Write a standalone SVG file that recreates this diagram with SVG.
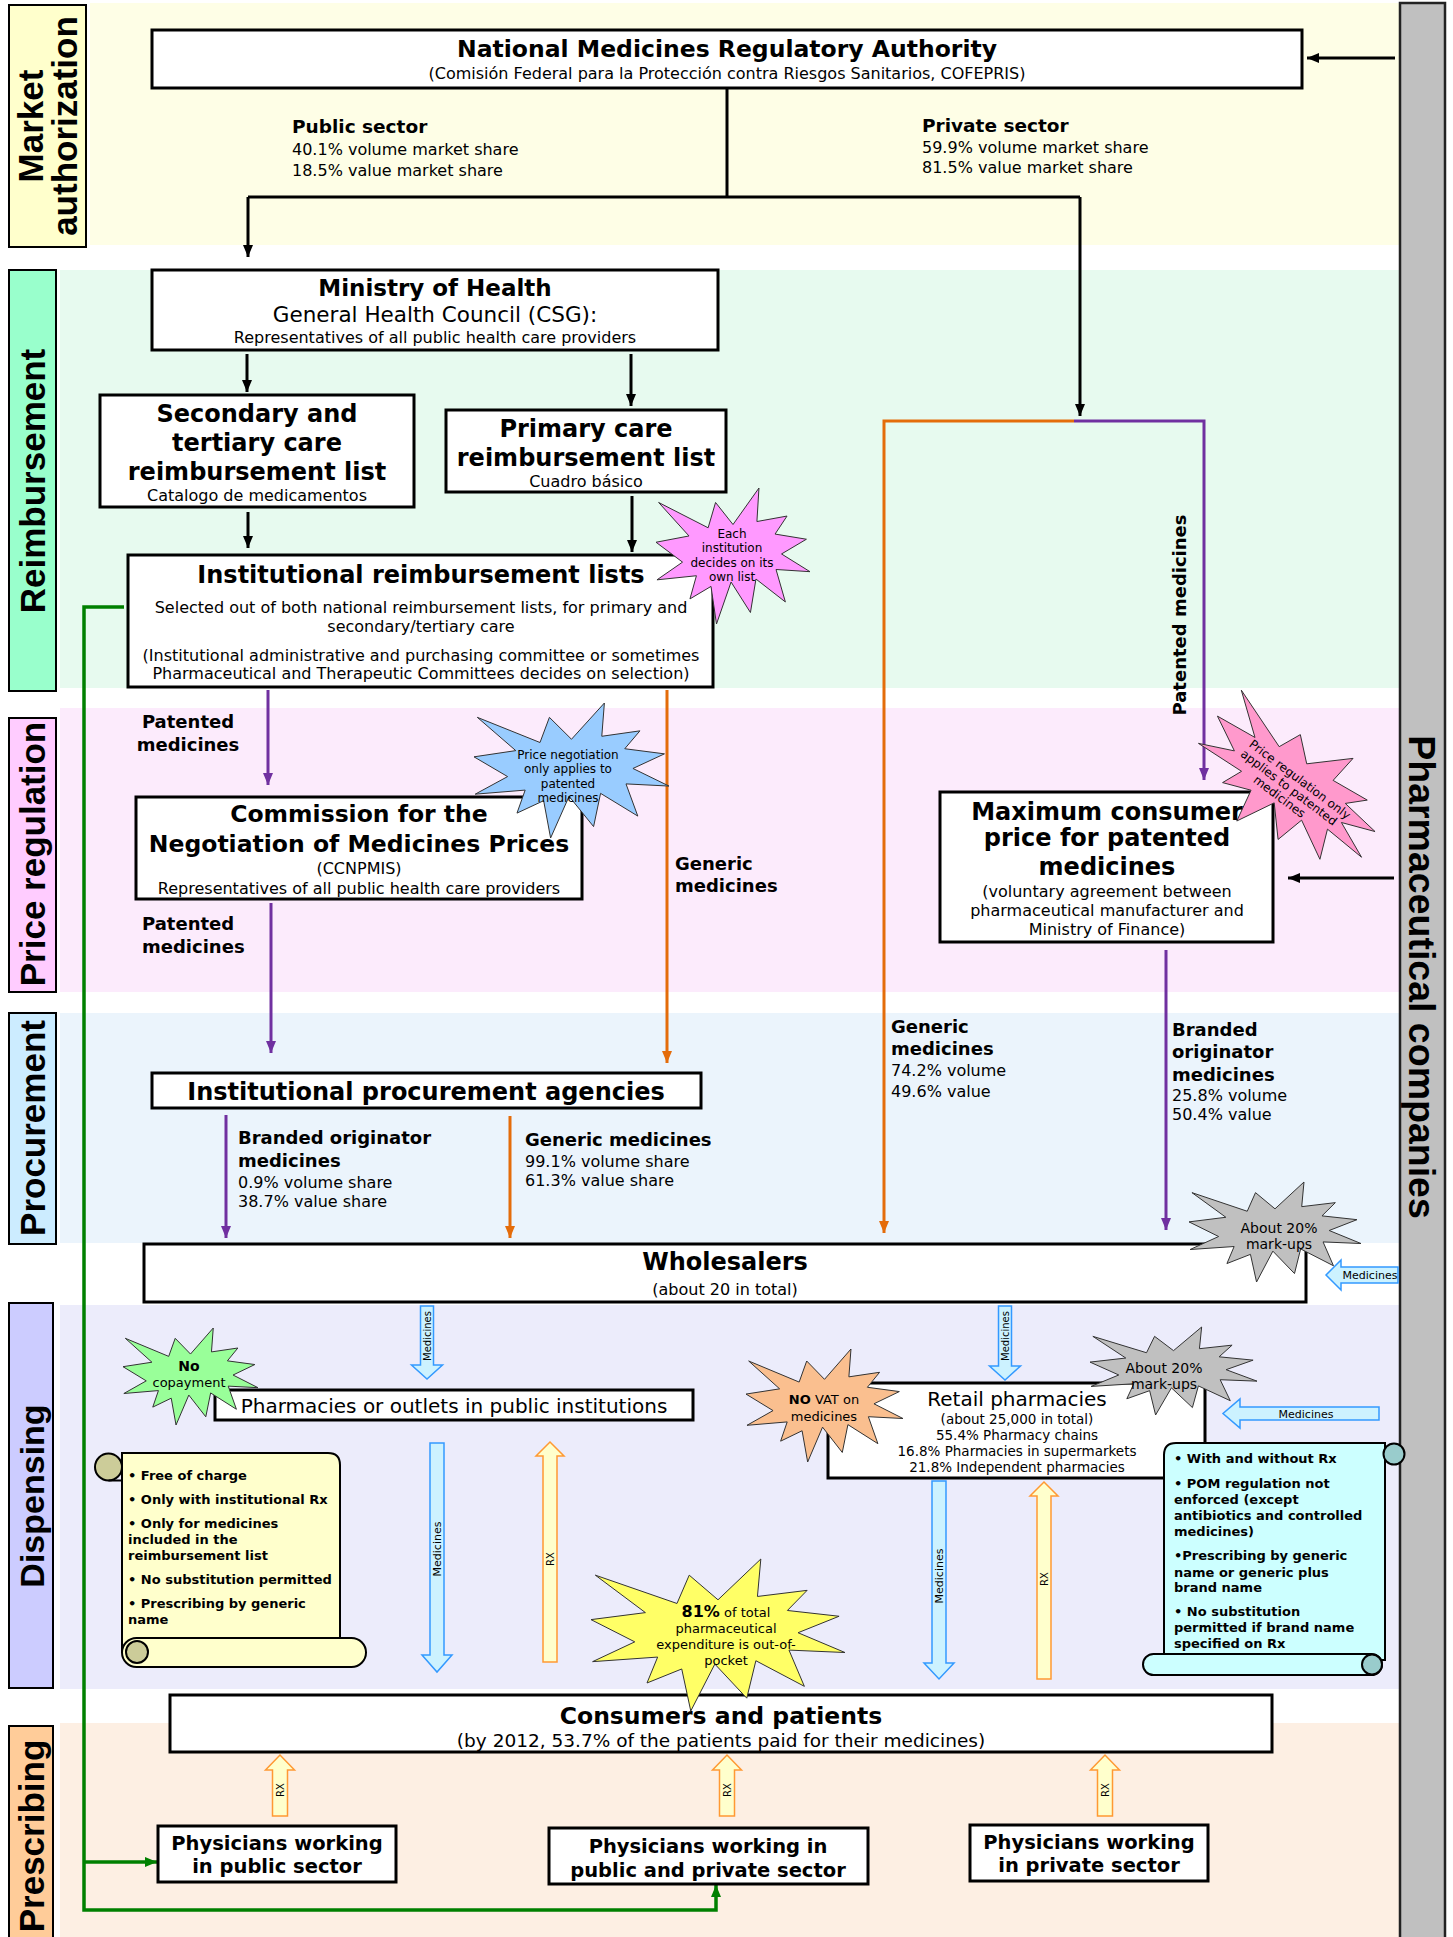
<svg xmlns="http://www.w3.org/2000/svg" xmlns:xlink="http://www.w3.org/1999/xlink" width="1453" height="1937" viewBox="0 0 1453 1937">
<style>
.f{font-family:"DejaVu Sans",Verdana,sans-serif;fill:#000}
.b{font-weight:bold}
.m{text-anchor:middle}
.lab{font-family:"Liberation Sans",Arial,sans-serif;font-weight:bold;font-size:35px;text-anchor:middle;fill:#000}
.box{fill:#fff;stroke:#000;stroke-width:3}
.sl{stroke:#000;stroke-width:2}
.blk{fill:none;stroke:#000;stroke-width:3}
.pur{fill:none;stroke:#7030A0;stroke-width:3}
.org{fill:none;stroke:#E46C0A;stroke-width:3}
.grn{fill:none;stroke:#008000;stroke-width:3.5}
.med{fill:#CCF2FF;stroke:#3399FF;stroke-width:1.5}
.rx{fill:#FFFFCC;stroke:#FF9933;stroke-width:1.5}
.star{stroke:#333;stroke-width:1}
</style>
<defs>
<path id="seal" vector-effect="non-scaling-stroke" d="M50,26.85 L66.86,0 L65.53,24.65 L85.09,20.63 L77.32,33.87 L97.67,37.67 L81.51,48.5 L100,61.53 L77.95,59.92 L84,83.77 L64.91,66.93 L61.33,91.56 L48.76,69.14 L39.28,100 L35.72,72.35 L22.05,81.56 L26.24,64.52 L0.63,67.53 L17.23,54.51 L0,39.88 L21.42,35.27 L1.71,10.63 L33.85,29.26 L38.67,10.63 Z"/>
<marker id="aK" markerUnits="userSpaceOnUse" markerWidth="12" markerHeight="10" refX="12" refY="5" orient="auto"><path d="M0,0 L12,5 L0,10 Z" fill="#000"/></marker>
<marker id="aP" markerUnits="userSpaceOnUse" markerWidth="12" markerHeight="10" refX="12" refY="5" orient="auto"><path d="M0,0 L12,5 L0,10 Z" fill="#7030A0"/></marker>
<marker id="aO" markerUnits="userSpaceOnUse" markerWidth="12" markerHeight="10" refX="12" refY="5" orient="auto"><path d="M0,0 L12,5 L0,10 Z" fill="#E46C0A"/></marker>
<marker id="aG" markerUnits="userSpaceOnUse" markerWidth="12" markerHeight="10" refX="12" refY="5" orient="auto"><path d="M0,0 L12,5 L0,10 Z" fill="#008000"/></marker>
</defs>

<!-- section backgrounds -->
<g id="backgrounds">
<rect x="90" y="3" width="1310" height="242" fill="#FEFEE6"/>
<rect x="60" y="270" width="1340" height="418" fill="#E7FAEF"/>
<rect x="60" y="708" width="1340" height="284" fill="#FCEBFC"/>
<rect x="60" y="1013" width="1340" height="230" fill="#EBF4FC"/>
<rect x="60" y="1305" width="1340" height="384" fill="#ECECFB"/>
<rect x="60" y="1723" width="1340" height="214" fill="#FDEFE3"/>
</g>

<!-- section labels -->
<g id="label-market"><rect x="9" y="5" width="77" height="242" fill="#FFFFCC" class="sl"/>
<text class="lab" transform="translate(47,126) rotate(-90)"><tspan x="0" y="-4">Market</tspan><tspan x="0" y="30">authorization</tspan></text></g>
<g id="label-reimb"><rect x="9" y="270" width="47" height="421" fill="#99FFCC" class="sl"/>
<text class="lab" transform="translate(45,481) rotate(-90)">Reimbursement</text></g>
<g id="label-price"><rect x="9" y="718" width="47" height="274" fill="#FFCCFF" class="sl"/>
<text class="lab" transform="translate(45,854) rotate(-90)">Price regulation</text></g>
<g id="label-proc"><rect x="9" y="1013" width="47" height="231" fill="#CCECFF" class="sl"/>
<text class="lab" transform="translate(45,1128) rotate(-90)">Procurement</text></g>
<g id="label-disp"><rect x="9" y="1303" width="44" height="385" fill="#CCCCFF" class="sl"/>
<text class="lab" style="font-size:34px" transform="translate(44,1496) rotate(-90)">Dispensing</text></g>
<g id="label-presc"><rect x="9" y="1726" width="44" height="215" fill="#FFCC99" class="sl"/>
<text class="lab" transform="translate(44,1836) rotate(-90)">Prescribing</text></g>

<g id="pharma-companies"><rect x="1400" y="3" width="45" height="1940" fill="#C0C0C0" stroke="#222" stroke-width="2.5"/>
<text class="lab" style="font-size:37.5px" transform="translate(1409,977) rotate(90)">Pharmaceutical companies</text></g>

<!-- connectors -->
<g id="connectors">
<path class="blk" d="M727,88 V197"/>
<path class="blk" stroke-width="4" d="M248,197 H1080"/>
<path class="blk" d="M248,197 V257" marker-end="url(#aK)"/>
<path class="blk" d="M1080,197 V416" marker-end="url(#aK)"/>
<path class="blk" d="M1395,58 H1307" marker-end="url(#aK)"/>
<path class="blk" d="M247,354 V392" marker-end="url(#aK)"/>
<path class="blk" d="M631,354 V406" marker-end="url(#aK)"/>
<path class="blk" d="M248,512 V548" marker-end="url(#aK)"/>
<path class="blk" d="M632,496 V552" marker-end="url(#aK)"/>
<path class="blk" d="M1394,878 H1288" marker-end="url(#aK)"/>
<path class="org" d="M1074,421 H884 V1233" marker-end="url(#aO)"/>
<path class="org" d="M667,690 V1063" marker-end="url(#aO)"/>
<path class="org" d="M510,1116 V1238" marker-end="url(#aO)"/>
<path class="pur" d="M1074,421 H1204 V780" marker-end="url(#aP)"/>
<path class="pur" d="M268,690 V785" marker-end="url(#aP)"/>
<path class="pur" d="M271,903 V1053" marker-end="url(#aP)"/>
<path class="pur" d="M226,1115 V1238" marker-end="url(#aP)"/>
<path class="pur" d="M1166,950 V1230" marker-end="url(#aP)"/>
<path class="grn" d="M124,607 H84 V1910 H716 V1885" marker-end="url(#aG)"/>
<path class="grn" d="M84,1862 H157" marker-end="url(#aG)"/>
</g>

<!-- edge labels -->
<g id="edge-labels" class="f">
<text x="292" y="133" class="b" font-size="18.5">Public sector</text>
<text x="292" y="155" font-size="16">40.1% volume market share</text>
<text x="292" y="176" font-size="16">18.5% value market share</text>
<text x="922" y="132" class="b" font-size="18.5">Private sector</text>
<text x="922" y="153" font-size="16">59.9% volume market share</text>
<text x="922" y="173" font-size="16">81.5% value market share</text>
<text class="b m" font-size="18" transform="translate(1186,615) rotate(-90)">Patented medicines</text>
<text x="188" y="728" class="b m" font-size="18">Patented</text>
<text x="188" y="751" class="b m" font-size="18">medicines</text>
<text x="675" y="870" class="b" font-size="18">Generic</text>
<text x="675" y="892" class="b" font-size="18">medicines</text>
<text x="142" y="930" class="b" font-size="18">Patented</text>
<text x="142" y="953" class="b" font-size="18">medicines</text>
<text x="238" y="1144" class="b" font-size="18">Branded originator</text>
<text x="238" y="1167" class="b" font-size="18">medicines</text>
<text x="238" y="1188" font-size="16">0.9% volume share</text>
<text x="238" y="1207" font-size="16">38.7% value share</text>
<text x="525" y="1146" class="b" font-size="18">Generic medicines</text>
<text x="525" y="1167" font-size="16">99.1% volume share</text>
<text x="525" y="1186" font-size="16">61.3% value share</text>
<text x="891" y="1033" class="b" font-size="18">Generic</text>
<text x="891" y="1055" class="b" font-size="18">medicines</text>
<text x="891" y="1076" font-size="16">74.2% volume</text>
<text x="891" y="1097" font-size="16">49.6% value</text>
<text x="1172" y="1036" class="b" font-size="18">Branded</text>
<text x="1172" y="1058" class="b" font-size="18">originator</text>
<text x="1172" y="1081" class="b" font-size="18">medicines</text>
<text x="1172" y="1101" font-size="16">25.8% volume</text>
<text x="1172" y="1120" font-size="16">50.4% value</text>
</g>

<!-- nodes -->
<g id="nmra"><rect x="152" y="30" width="1150" height="58" class="box"/>
<text x="727" y="57" class="f b m" font-size="23.5">National Medicines Regulatory Authority</text>
<text x="727" y="79" class="f m" font-size="16">(Comisión Federal para la Protección contra Riesgos Sanitarios, COFEPRIS)</text></g>

<g id="ministry"><rect x="152" y="270" width="566" height="80" class="box"/>
<text x="435" y="296" class="f b m" font-size="23">Ministry of Health</text>
<text x="435" y="322" class="f m" font-size="21.5">General Health Council (CSG):</text>
<text x="435" y="343" class="f m" font-size="16">Representatives of all public health care providers</text></g>

<g id="secondary-list"><rect x="100" y="395" width="314" height="112" class="box"/>
<text x="257" y="422" class="f b m" font-size="24">Secondary and</text>
<text x="257" y="451" class="f b m" font-size="24">tertiary care</text>
<text x="257" y="480" class="f b m" font-size="24">reimbursement list</text>
<text x="257" y="501" class="f m" font-size="16">Catalogo de medicamentos</text></g>

<g id="primary-list"><rect x="446" y="410" width="280" height="82" class="box"/>
<text x="586" y="437" class="f b m" font-size="24">Primary care</text>
<text x="586" y="466" class="f b m" font-size="24">reimbursement list</text>
<text x="586" y="487" class="f m" font-size="16">Cuadro básico</text></g>

<g id="institutional-lists"><rect x="128" y="555" width="585" height="132" class="box"/>
<text x="421" y="583" class="f b m" font-size="24">Institutional reimbursement lists</text>
<text x="421" y="613" class="f m" font-size="16">Selected out of both national reimbursement lists, for primary and</text>
<text x="421" y="632" class="f m" font-size="16">secondary/tertiary care</text>
<text x="421" y="661" class="f m" font-size="16">(Institutional administrative and purchasing committee or sometimes</text>
<text x="421" y="679" class="f m" font-size="16">Pharmaceutical and Therapeutic Committees decides on selection)</text></g>

<g id="commission"><rect x="136" y="797" width="446" height="102" class="box"/>
<text x="359" y="822" class="f b m" font-size="23.5">Commission for the</text>
<text x="359" y="852" class="f b m" font-size="23.5">Negotiation of Medicines Prices</text>
<text x="359" y="874" class="f m" font-size="16">(CCNPMIS)</text>
<text x="359" y="894" class="f m" font-size="16">Representatives of all public health care providers</text></g>

<g id="max-price"><rect x="940" y="792" width="333" height="150" class="box"/>
<text x="1107" y="820" class="f b m" font-size="24">Maximum consumer</text>
<text x="1107" y="846" class="f b m" font-size="24">price for patented</text>
<text x="1107" y="875" class="f b m" font-size="24">medicines</text>
<text x="1107" y="897" class="f m" font-size="16">(voluntary agreement between</text>
<text x="1107" y="916" class="f m" font-size="16">pharmaceutical manufacturer and</text>
<text x="1107" y="935" class="f m" font-size="16">Ministry of Finance)</text></g>

<g id="procurement-agencies"><rect x="152" y="1073" width="549" height="35" class="box"/>
<text x="426" y="1100" class="f b m" font-size="24">Institutional procurement agencies</text></g>

<g id="wholesalers"><rect x="144" y="1244" width="1162" height="58" class="box"/>
<text x="725" y="1270" class="f b m" font-size="24">Wholesalers</text>
<text x="725" y="1295" class="f m" font-size="16">(about 20 in total)</text></g>

<g id="public-pharmacies"><rect x="215" y="1390" width="478" height="30" class="box"/>
<text x="454" y="1413" class="f m" font-size="20">Pharmacies or outlets in public institutions</text></g>

<g id="retail-pharmacies"><rect x="828" y="1383" width="377" height="95" class="box"/>
<text x="1017" y="1406" class="f m" font-size="20">Retail pharmacies</text>
<text x="1017" y="1424" class="f m" font-size="13.5">(about 25,000 in total)</text>
<text x="1017" y="1440" class="f m" font-size="13.5">55.4% Pharmacy chains</text>
<text x="1017" y="1456" class="f m" font-size="13.5">16.8% Pharmacies in supermarkets</text>
<text x="1017" y="1472" class="f m" font-size="13.5">21.8% Independent pharmacies</text></g>

<g id="consumers"><rect x="170" y="1695" width="1102" height="57" class="box"/>
<text x="721" y="1724" class="f b m" font-size="23.5">Consumers and patients</text>
<text x="721" y="1747" class="f m" font-size="18.5">(by 2012, 53.7% of the patients paid for their medicines)</text></g>

<g id="phys-public"><rect x="158" y="1826" width="238" height="56" class="box"/>
<text x="277" y="1850" class="f b m" font-size="19.5">Physicians working</text>
<text x="277" y="1873" class="f b m" font-size="19.5">in public sector</text></g>

<g id="phys-both"><rect x="549" y="1828" width="319" height="56" class="box"/>
<text x="708" y="1853" class="f b m" font-size="19.5">Physicians working in</text>
<text x="708" y="1877" class="f b m" font-size="19.5">public and private sector</text></g>

<g id="phys-private"><rect x="970" y="1825" width="238" height="56" class="box"/>
<text x="1089" y="1849" class="f b m" font-size="19.5">Physicians working</text>
<text x="1089" y="1872" class="f b m" font-size="19.5">in private sector</text></g>

<!-- block arrows -->
<g id="medicine-flows" class="f">
<path class="med" d="M420.5,1306 H433.5 V1365 H442.5 L427,1379 L411.5,1365 H420.5 Z"/>
<text class="m" font-size="10" transform="translate(430.5,1336) rotate(-90)">Medicines</text>
<path class="med" d="M998.5,1306 H1011.5 V1366 H1020.5 L1005,1380 L989.5,1366 H998.5 Z"/>
<text class="m" font-size="10" transform="translate(1008.5,1336) rotate(-90)">Medicines</text>
<path class="med" d="M430,1443 H444 V1655 H452 L437,1672 L422,1655 H430 Z"/>
<text class="m" font-size="11" transform="translate(441,1549) rotate(-90)">Medicines</text>
<path class="med" d="M932,1481 H946 V1663 H954 L939,1679 L924,1663 H932 Z"/>
<text class="m" font-size="11" transform="translate(943,1576) rotate(-90)">Medicines</text>
<path class="med" d="M1398,1267 H1341 V1260 L1326,1275 L1341,1290 V1283 H1398 Z"/>
<text x="1370" y="1279" class="m" font-size="11">Medicines</text>
<path class="med" d="M1379,1407 H1240 V1399 L1223,1413.5 L1240,1428 V1420 H1379 Z"/>
<text x="1306" y="1418" class="m" font-size="11">Medicines</text>
</g>
<g id="rx-flows" class="f">
<path class="rx" d="M543,1662 V1456 H536 L550,1442 L564,1456 H557 V1662 Z"/>
<text class="m" font-size="10" transform="translate(553.5,1559) rotate(-90)">RX</text>
<path class="rx" d="M1037,1679 V1496 H1030 L1044,1482 L1058,1496 H1051 V1679 Z"/>
<text class="m" font-size="10" transform="translate(1047.5,1579) rotate(-90)">RX</text>
<path class="rx" d="M272.5,1816 V1770 H265.5 L280,1755 L294.5,1770 H287.5 V1816 Z"/>
<text class="m" font-size="10" transform="translate(283.5,1790) rotate(-90)">RX</text>
<path class="rx" d="M719.5,1816 V1770 H712.5 L727,1755 L741.5,1770 H734.5 V1816 Z"/>
<text class="m" font-size="10" transform="translate(730.5,1790) rotate(-90)">RX</text>
<path class="rx" d="M1097.5,1816 V1770 H1090.5 L1105,1755 L1119.5,1770 H1112.5 V1816 Z"/>
<text class="m" font-size="10" transform="translate(1108.5,1790) rotate(-90)">RX</text>
</g>

<!-- scrolls -->
<g id="public-conditions">
<path d="M122,1453 H328 Q340,1453 340,1465 V1652 H122 Z" fill="#FFFFCC" class="sl"/>
<circle cx="108.5" cy="1467" r="13.5" fill="#CCCC99" class="sl"/>
<path d="M108.5,1480.5 H122" class="sl" fill="none"/>
<rect x="122" y="1638" width="244" height="29" rx="14.5" fill="#FFFFCC" class="sl"/>
<circle cx="137" cy="1652" r="11" fill="#CCCC99" class="sl"/>
<g class="f b" font-size="13">
<text x="128" y="1480">• Free of charge</text>
<text x="128" y="1504">• Only with institutional Rx</text>
<text x="128" y="1528">• Only for medicines</text>
<text x="128" y="1544">included in the</text>
<text x="128" y="1560">reimbursement list</text>
<text x="128" y="1584">• No substitution permitted</text>
<text x="128" y="1608">• Prescribing by generic</text>
<text x="128" y="1624">name</text>
</g></g>

<g id="retail-conditions">
<path d="M1164,1455 Q1164,1443 1176,1443 H1385 V1660 H1164 Z" fill="#CCFFFF" class="sl"/>
<circle cx="1394" cy="1454" r="10.5" fill="#99CCCC" class="sl"/>
<rect x="1143" y="1654" width="239" height="21" rx="10.5" fill="#CCFFFF" class="sl"/>
<circle cx="1372" cy="1664.5" r="10" fill="#99CCCC" class="sl"/>
<g class="f b" font-size="13">
<text x="1174" y="1463">• With and without Rx</text>
<text x="1174" y="1488">• POM regulation not</text>
<text x="1174" y="1504">enforced (except</text>
<text x="1174" y="1520">antibiotics and controlled</text>
<text x="1174" y="1536">medicines)</text>
<text x="1174" y="1560">•Prescribing by generic</text>
<text x="1174" y="1577">name or generic plus</text>
<text x="1174" y="1592">brand name</text>
<text x="1174" y="1616">• No substitution</text>
<text x="1174" y="1632">permitted if brand name</text>
<text x="1174" y="1648">specified on Rx</text>
</g></g>

<!-- starbursts -->
<g id="star-each-institution">
<use href="#seal" class="star" fill="#FF99FF" transform="translate(656,488) scale(1.54,1.36)"/>
<g class="f m" font-size="12"><text x="732" y="538">Each</text><text x="732" y="552">institution</text><text x="732" y="567">decides on its</text><text x="732" y="581">own list</text></g></g>

<g id="star-price-negotiation">
<use href="#seal" class="star" fill="#99CCFF" transform="translate(474,703) scale(1.95,1.35)"/>
<g class="f m" font-size="12"><text x="568" y="759">Price negotiation</text><text x="568" y="773">only  applies to</text><text x="568" y="788">patented</text><text x="568" y="802">medicines</text></g></g>

<g id="star-price-regulation" transform="translate(1290,786) rotate(37)">
<use href="#seal" class="star" fill="#FF99CC" transform="translate(-100,-60) scale(2.0,1.2)"/>
<g class="f m" font-size="12"><text x="4" y="-7">Price regulation only</text><text x="0" y="6">applies to patented</text><text x="-2" y="19">medicines</text></g></g>

<g id="star-wholesale-markup">
<use href="#seal" class="star" fill="#C0C0C0" transform="translate(1189,1182) scale(1.72,1.0)"/>
<g class="f m" font-size="14"><text x="1279" y="1233">About 20%</text><text x="1279" y="1249">mark-ups</text></g></g>

<g id="star-no-copayment">
<use href="#seal" class="star" fill="#99FF99" transform="translate(123,1328) scale(1.35,0.97)"/>
<text x="189" y="1371" class="f b m" font-size="14">No</text>
<text x="189" y="1387" class="f m" font-size="13">copayment</text></g>

<g id="star-no-vat">
<use href="#seal" class="star" fill="#FABF8F" transform="translate(746,1349) scale(1.57,1.13)"/>
<text x="824" y="1404" class="f m" font-size="13"><tspan class="b">NO</tspan> VAT on</text>
<text x="824" y="1421" class="f m" font-size="13">medicines</text></g>

<g id="star-retail-markup">
<use href="#seal" class="star" fill="#C0C0C0" transform="translate(1090,1327) scale(1.67,0.88)"/>
<g class="f m" font-size="14"><text x="1164" y="1373">About 20%</text><text x="1164" y="1389">mark-ups</text></g></g>

<g id="star-out-of-pocket">
<use href="#seal" class="star" fill="#FFFF66" transform="translate(591,1559) scale(2.54,1.52)"/>
<g class="f m" font-size="13"><text x="726" y="1617"><tspan class="b" font-size="16">81%</tspan> of total</text><text x="726" y="1633">pharmaceutical</text><text x="726" y="1649">expenditure is out-of-</text><text x="726" y="1665">pocket</text></g></g>
</svg>
